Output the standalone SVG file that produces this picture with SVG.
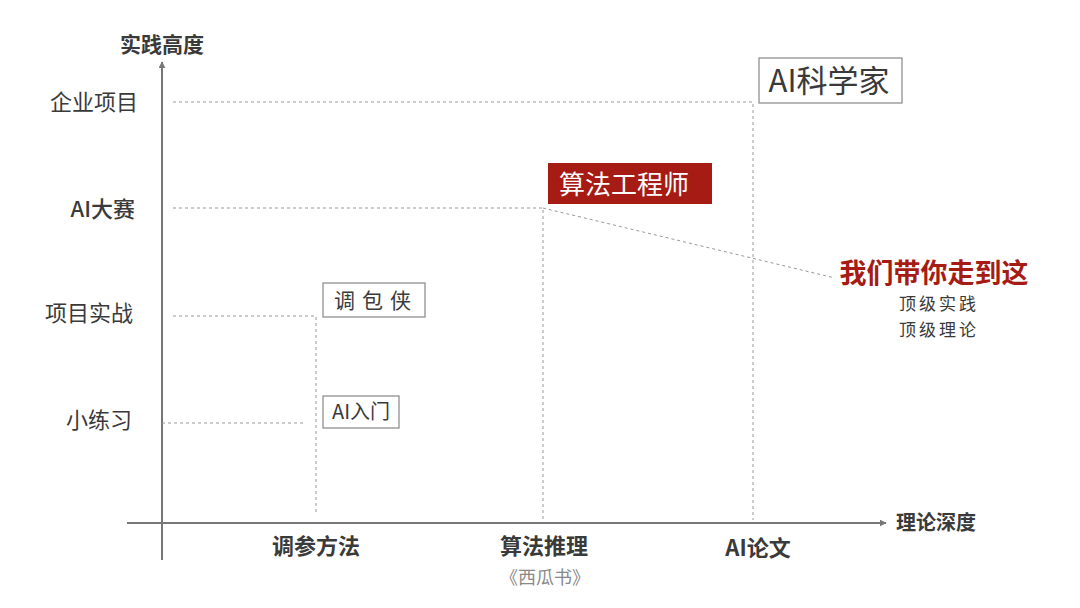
<svg xmlns="http://www.w3.org/2000/svg" width="1080" height="608" viewBox="0 0 1080 608">
<defs>
<style>
.t{font-family:"Noto Sans CJK SC","Liberation Sans",sans-serif;fill:#3a3a3a}
.b{font-weight:bold}
.axis{stroke:#777;stroke-width:2;fill:none}
.dash{stroke:#999;stroke-width:1;stroke-dasharray:3,3;fill:none}
.box{fill:#fff;stroke:#888;stroke-width:1.2}
</style>
<marker id="arr" viewBox="0 0 10 10" refX="9" refY="5" markerWidth="7" markerHeight="7" orient="auto" markerUnits="userSpaceOnUse"><path d="M0,0 L10,5 L0,10 z" fill="#777"/></marker>
</defs>
<rect width="1080" height="608" fill="#fff"/>
<g id="connectors">
<line class="axis" x1="162" y1="560" x2="162" y2="62" marker-end="url(#arr)"/>
<line class="axis" x1="127" y1="523" x2="886" y2="523" marker-end="url(#arr)"/>
<path class="dash" d="M173,102 H753 V520"/>
<path class="dash" d="M173,208 H543 V520"/>
<path class="dash" d="M543,208 L835,278"/>
<path class="dash" d="M173,316 H316 V515"/>
<path class="dash" d="M162,423 H306"/>
</g>
<g id="axis-labels">
<text class="t b" x="162" y="52" font-size="21" text-anchor="middle">实践高度</text>
<text class="t b" x="896" y="530" font-size="20">理论深度</text>
</g>
<g id="y-labels">
<text class="t" x="138" y="110" font-size="22" text-anchor="end">企业项目</text>
<text class="t" x="135" y="217" font-size="22" text-anchor="end" font-weight="500">AI大赛</text>
<text class="t" x="133" y="321" font-size="22" text-anchor="end">项目实战</text>
<text class="t" x="132" y="428" font-size="22" text-anchor="end">小练习</text>
</g>
<g id="x-labels">
<text class="t b" x="316" y="554" font-size="22" text-anchor="middle">调参方法</text>
<text class="t b" x="544" y="554" font-size="22" text-anchor="middle">算法推理</text>
<text class="t" x="545" y="584" font-size="18" text-anchor="middle" style="fill:#888">《西瓜书》</text>
<text class="t b" x="758" y="556" font-size="22" text-anchor="middle">AI论文</text>
</g>
<g id="node-scientist">
<rect class="box" x="759" y="58" width="143" height="45"/>
<text class="t" x="829" y="92" font-size="31" text-anchor="middle">AI科学家</text>
</g>
<g id="node-engineer">
<rect x="548" y="163" width="164" height="41" fill="#a61c14"/>
<text class="t" x="624" y="194" font-size="26" text-anchor="middle" style="fill:#fff">算法工程师</text>
</g>
<g id="node-baoxia">
<rect class="box" x="323" y="283" width="102" height="34"/>
<text class="t" x="376" y="308" font-size="21" text-anchor="middle" letter-spacing="7">调包侠</text>
</g>
<g id="node-intro">
<rect class="box" x="323" y="396" width="76" height="32"/>
<text class="t" x="361" y="419" font-size="20" text-anchor="middle">AI入门</text>
</g>
<g id="node-here">
<text class="t b" x="934" y="283" font-size="27" text-anchor="middle" style="fill:#a61c14">我们带你走到这</text>
<text class="t" x="939" y="310" font-size="17" text-anchor="middle" letter-spacing="3">顶级实践</text>
<text class="t" x="939" y="336" font-size="17" text-anchor="middle" letter-spacing="3">顶级理论</text>
</g>
</svg>
